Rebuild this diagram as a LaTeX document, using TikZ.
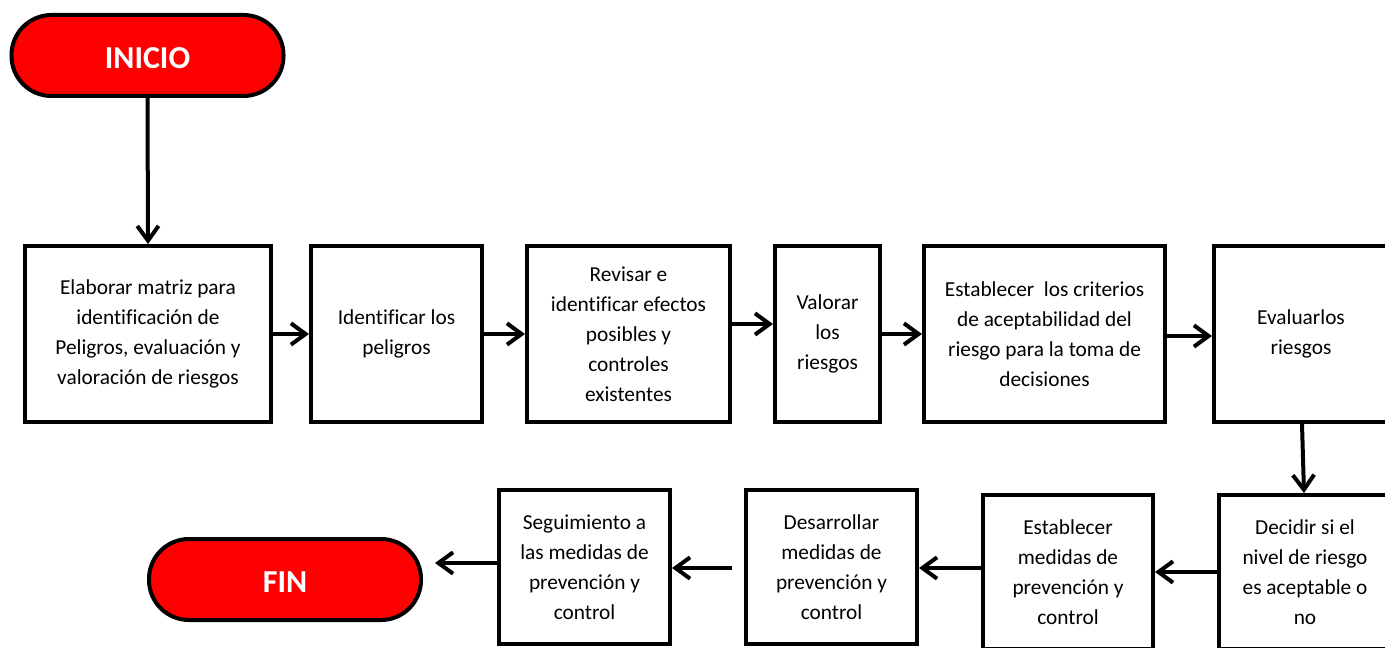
\documentclass[tikz,border=0pt]{standalone}
\usepackage{fontspec}
\setmainfont{Carlito}[Ligatures=NoCommon]
\usetikzlibrary{arrows.meta}
\begin{document}
\begin{tikzpicture}[x=0.75pt,y=-0.75pt,
  box/.style 2 args={draw=black, line width=3pt, fill=white, align=center, inner sep=0pt,
    minimum width=#1*0.75pt-3pt, minimum height=#2*0.75pt-3pt,
    font=\fontsize{16}{22.5}\selectfont},
  term/.style={draw=black, line width=3pt, fill=red, rounded corners=30pt, text=white,
    minimum width=272*0.75pt, minimum height=81*0.75pt, inner sep=0pt,
    text height=19pt, text depth=0pt,
    font=\fontsize{24}{28}\selectfont\bfseries},
  arr/.style={line width=3pt, -{Straight Barb[length=11pt,width=16pt]}}
]
\useasboundingbox (0,0) rectangle (1385,648);
\clip (0,0) rectangle (1385,648);

\node[term] (ini) at (147.5,55.5) {INICIO};
\node[term] (fin) at (285,579.5) {FIN};

\node[box={250}{180}] (b1) at (148,334) {Elaborar matriz para\\identificación de\\Peligros, evaluación y\\valoración de riesgos};
\node[box={175}{180}] (b2) at (396.5,334) {Identificar los\\peligros};
\node[box={207}{180}] (b3) at (628.5,334) {Revisar e\\identificar efectos\\posibles y\\controles\\existentes};
\node[box={109}{180}] (b4) at (827.5,334) {Valorar\\los\\riesgos};
\node[box={245}{180}] (b5) at (1044.5,334) {Establecer\ \ los criterios\\de aceptabilidad del\\riesgo para la toma de\\decisiones};
\node[box={178}{180}] (b6) at (1301,334) {Evaluarlos\\riesgos};

\node[box={176}{158}] (b7) at (1305,572) {Decidir si el\\nivel de riesgo\\es aceptable o\\no};
\node[box={174}{158}] (b8) at (1068,572) {Establecer\\medidas de\\prevención y\\control};
\node[box={175}{158}] (b9) at (831.5,567) {Desarrollar\\medidas de\\prevención y\\control};
\node[box={175}{158}] (b10) at (584.5,567) {Seguimiento a\\las medidas de\\prevención y\\control};

\coordinate (s9) at (732,568);
\coordinate (efin) at (435,563);

\draw[arr] (ini.south) -- (b1.north);
\draw[arr] (b1.east) -- (b2.west);
\draw[arr] (b2.east) -- (b3.west);
\draw[arr] ([yshift=7.5pt]b3.east) -- ([yshift=7.5pt]b4.west);
\draw[arr] (b4.east) -- (b5.west);
\draw[arr] ([yshift=-1.5pt]b5.east) -- ([yshift=-1.5pt]b6.west);
\draw[arr] ([xshift=0.75pt]b6.south) -- ([xshift=-0.75pt]b7.north);
\draw[arr] (b7.west) -- (b8.east);
\draw[arr] ([yshift=3pt]b8.west) -- ([yshift=3pt]b8.west -| b9.east);
\draw[arr] (s9) -- (s9 -| b10.east);
\draw[arr] (b10.west |- efin) -- (efin);
\end{tikzpicture}
\end{document}
